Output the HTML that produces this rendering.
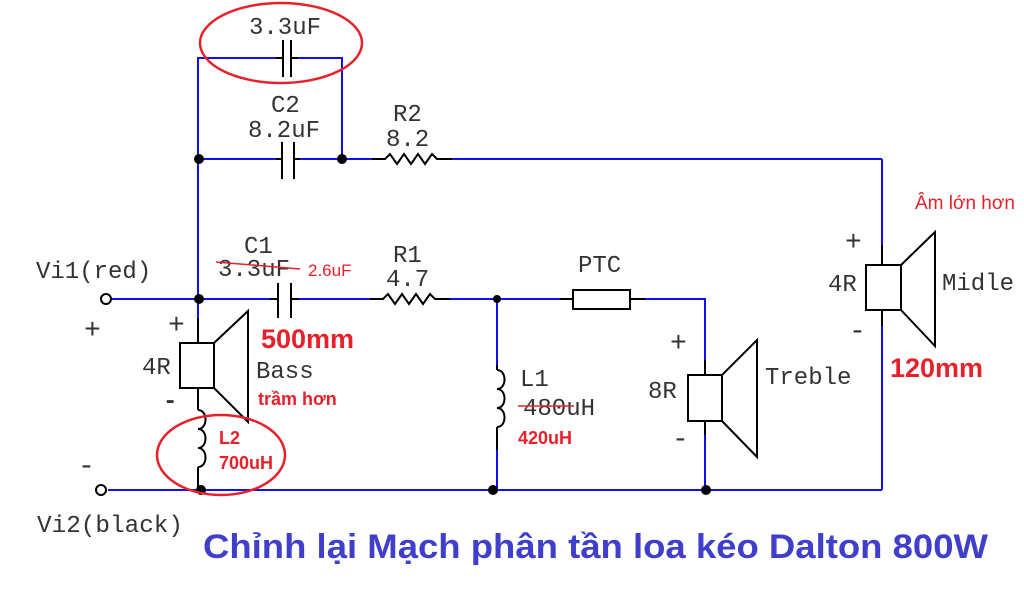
<!DOCTYPE html>
<html><head><meta charset="utf-8"><style>
html,body{margin:0;padding:0;background:#fff;width:1024px;height:615px;overflow:hidden}
svg{display:block}
.m{font-family:"Liberation Mono",monospace;font-size:24px;fill:#333}
.p{font-family:"Liberation Mono",monospace;font-size:28px;fill:#333}
.r{font-family:"Liberation Sans",sans-serif;fill:#e8202a}
</style></head><body>
<svg width="1024" height="615" viewBox="0 0 1024 615" xmlns="http://www.w3.org/2000/svg">
<g stroke="#1010f0" stroke-width="2" fill="none">
<polyline points="198,318 198,58 276,58"/>
<polyline points="298,58 342,58 342,159"/>
<line x1="198" y1="159" x2="276" y2="159"/>
<line x1="300" y1="159" x2="372" y2="159"/>
<line x1="452" y1="159" x2="882" y2="159"/>
<line x1="882" y1="159" x2="882" y2="245"/>
<line x1="882" y1="326" x2="882" y2="490"/>
<line x1="112" y1="299" x2="272" y2="299"/>
<line x1="298" y1="299" x2="372" y2="299"/>
<line x1="450" y1="299" x2="573" y2="299"/>
<polyline points="630,299 705,299 705,360"/>
<line x1="705" y1="435" x2="705" y2="490"/>
<line x1="497" y1="299" x2="497" y2="365"/>
<line x1="497" y1="450" x2="497" y2="490"/>
<line x1="108" y1="490" x2="882" y2="490"/>
</g>
<g stroke="#000" stroke-width="2" fill="none">
<line x1="276" y1="58" x2="283" y2="58"/><line x1="291" y1="58" x2="298" y2="58"/>
<line x1="283" y1="40" x2="283" y2="77"/><line x1="291" y1="40" x2="291" y2="77"/>
<line x1="276" y1="159" x2="282" y2="159"/><line x1="294" y1="159" x2="300" y2="159"/>
<line x1="282" y1="142" x2="282" y2="179"/><line x1="294" y1="142" x2="294" y2="179"/>
<line x1="278" y1="283" x2="278" y2="318"/><line x1="291" y1="283" x2="291" y2="318"/>
<line x1="270" y1="299" x2="278" y2="299"/><line x1="291" y1="299" x2="299" y2="299"/>
<polyline points="372,159 385,159 390,154 397,164 404,154 411,164 418,154 425,164 432,154 437,159 452,159"/>
<polyline points="370,299 383,299 388,294 395,304 402,294 409,304 416,294 423,304 430,294 435,299 450,299"/>
<rect x="573" y="290" width="57" height="19"/>
<line x1="560" y1="299" x2="573" y2="299"/><line x1="630" y1="299" x2="645" y2="299"/>
<line x1="198" y1="318" x2="198" y2="343"/>
<rect x="180" y="343" width="34" height="45"/>
<polyline points="214,343 248,311 248,422 214,388"/>
<line x1="198" y1="388" x2="198" y2="410"/>
<path d="M198,410 c10,0 10,19 0,19 c10,0 10,19 0,19 c10,0 10,19 0,19"/>
<line x1="198" y1="467" x2="198" y2="490"/>
<line x1="497" y1="365" x2="497" y2="370"/>
<path d="M497,370 c10,0 10,19 0,19 c10,0 10,19 0,19 c10,0 10,19 0,19"/>
<line x1="497" y1="427" x2="497" y2="450"/>
<line x1="705" y1="360" x2="705" y2="375"/>
<rect x="688" y="375" width="34" height="46"/>
<polyline points="722,375 757,340 757,457 722,421"/>
<line x1="705" y1="421" x2="705" y2="435"/>
<line x1="882" y1="245" x2="882" y2="265"/>
<rect x="866" y="265" width="35" height="45"/>
<polyline points="901,265 935,232 935,346 901,310"/>
<line x1="882" y1="310" x2="882" y2="326"/>
</g>
<g fill="#000">
<circle cx="199" cy="159" r="5"/><circle cx="342" cy="159" r="5"/>
<circle cx="199" cy="299" r="5"/><circle cx="497" cy="299" r="4"/>
<circle cx="201" cy="490" r="5"/><circle cx="493" cy="490" r="5"/><circle cx="706" cy="490" r="5"/>
</g>
<circle cx="106" cy="299" r="5" fill="#fff" stroke="#000" stroke-width="2"/>
<circle cx="101" cy="490" r="5" fill="#fff" stroke="#000" stroke-width="2"/>
<ellipse cx="281" cy="43" rx="81" ry="40" fill="none" stroke="#e8202a" stroke-width="2.5"/>
<ellipse cx="221" cy="455" rx="64" ry="40" fill="none" stroke="#e8202a" stroke-width="2.5"/>
<text class="m" x="249" y="34">3.3uF</text>
<text class="m" x="271" y="112">C2</text>
<text class="m" x="248" y="137">8.2uF</text>
<text class="m" x="393" y="121">R2</text>
<text class="m" x="386" y="146">8.2</text>
<text class="m" x="36" y="278">Vi1(red)</text>
<text class="m" x="244" y="253">C1</text>
<text class="m" x="218" y="276">3.3uF</text>
<line x1="216" y1="262" x2="300" y2="269" stroke="#e8202a" stroke-width="1.5"/>
<text class="r" x="308" y="276" font-size="17">2.6uF</text>
<text class="m" x="393" y="262">R1</text>
<text class="m" x="386" y="286">4.7</text>
<text class="m" x="578" y="272">PTC</text>
<text class="p" x="84" y="338">+</text>
<text class="p" x="168" y="333">+</text>
<text class="m" x="142" y="374">4R</text>
<text class="m" x="163" y="408" font-weight="bold">-</text>
<text class="m" x="256" y="378">Bass</text>
<text class="r" x="258" y="405" font-size="18" font-weight="bold">trầm hơn</text>
<text class="r" x="219" y="444" font-size="18" font-weight="bold">L2</text>
<text class="r" x="219" y="469" font-size="18" font-weight="bold">700uH</text>
<text class="p" x="78" y="474">-</text>
<text class="m" x="37" y="532" textLength="146" lengthAdjust="spacingAndGlyphs">Vi2(black)</text>
<text class="r" x="261" y="348" font-size="27" font-weight="bold">500mm</text>
<text class="m" x="520" y="386">L1</text>
<text class="m" x="523" y="415">480uH</text>
<line x1="518" y1="406" x2="574" y2="406" stroke="#e8202a" stroke-width="1.5"/>
<text class="r" x="518" y="444" font-size="18" font-weight="bold">420uH</text>
<text class="p" x="670" y="351">+</text>
<text class="m" x="648" y="398">8R</text>
<text class="p" x="672" y="447">-</text>
<text class="m" x="765" y="384">Treble</text>
<text class="p" x="845" y="250">+</text>
<text class="m" x="828" y="291">4R</text>
<text class="p" x="849" y="339">-</text>
<text class="m" x="942" y="290">Midle</text>
<text class="r" x="915" y="209" font-size="19">Âm lớn hơn</text>
<text class="r" x="890" y="377" font-size="27" font-weight="bold">120mm</text>
<text x="203" y="558" font-family="'Liberation Sans Narrow','Liberation Sans',sans-serif" font-size="34" font-weight="bold" fill="#3f3fcc" textLength="785" lengthAdjust="spacingAndGlyphs">Chỉnh lại Mạch phân tần loa kéo Dalton 800W</text>
</svg>
</body></html>
